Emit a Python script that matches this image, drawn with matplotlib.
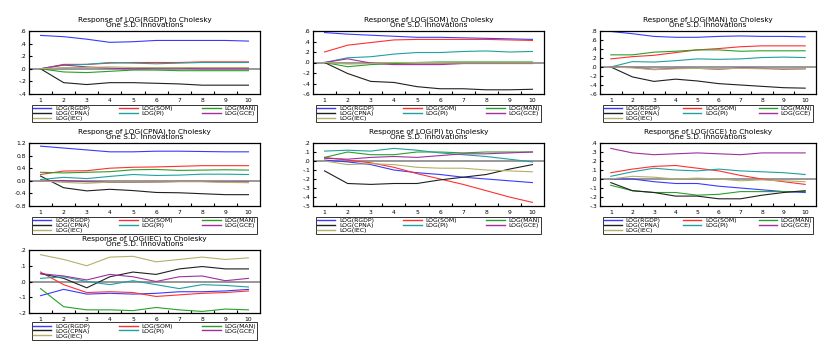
import numpy as np
import matplotlib.pyplot as plt
from matplotlib.ticker import FixedLocator, FixedFormatter

plt.rcParams['font.family'] = ['DejaVu Sans']

periods = np.arange(1, 11)

shocks = ["LOG(RGDP)", "LOG(SOM)", "LOG(MAN)", "LOG(CPNA)", "LOG(PI)", "LOG(GCE)", "LOG(IEC)"]
colors = ["#3a3aff", "#ff3030", "#2aa02a", "#202020", "#20a0a0", "#a030a0", "#b4b06a"]

# responses of each variable, one row per shock (same order as shocks)
resp_rgdp = [
    [0.53, 0.51, 0.47, 0.42, 0.43, 0.45, 0.45, 0.45, 0.45, 0.44],
    [0.0, 0.07, 0.07, 0.09, 0.10, 0.10, 0.10, 0.11, 0.11, 0.11],
    [0.0, -0.05, -0.06, -0.04, -0.02, -0.02, -0.03, -0.03, -0.03, -0.03],
    [0.0, -0.22, -0.25, -0.22, -0.22, -0.23, -0.24, -0.26, -0.26, -0.26],
    [0.0, 0.06, 0.07, 0.10, 0.09, 0.08, 0.09, 0.10, 0.10, 0.10],
    [0.0, 0.06, 0.03, 0.01, 0.0, 0.01, 0.01, 0.0, 0.0, 0.0],
    [0.0, 0.02, 0.02, 0.03, 0.02, 0.02, 0.02, 0.02, 0.02, 0.02],
]
resp_som = [
    [0.57, 0.54, 0.52, 0.50, 0.48, 0.48, 0.47, 0.46, 0.45, 0.44],
    [0.20, 0.33, 0.38, 0.43, 0.44, 0.44, 0.44, 0.44, 0.43, 0.42],
    [0.0, -0.08, -0.04, -0.02, 0.0, 0.01, 0.01, 0.01, 0.01, 0.01],
    [0.0, -0.21, -0.36, -0.38, -0.46, -0.50, -0.50, -0.52, -0.52, -0.51],
    [0.0, 0.09, 0.11, 0.16, 0.19, 0.19, 0.21, 0.22, 0.20, 0.21],
    [0.0, 0.07, -0.01, -0.04, -0.04, -0.04, -0.02, -0.02, -0.02, -0.02],
    [0.0, -0.03, -0.02, 0.0, 0.0, 0.0, -0.01, -0.01, -0.01, -0.01],
]
resp_man = [
    [0.79, 0.74, 0.68, 0.66, 0.66, 0.68, 0.69, 0.68, 0.68, 0.67],
    [0.18, 0.23, 0.26, 0.32, 0.38, 0.41, 0.45, 0.47, 0.47, 0.47],
    [0.27, 0.27, 0.33, 0.35, 0.38, 0.38, 0.35, 0.36, 0.36, 0.36],
    [0.0, -0.22, -0.32, -0.27, -0.31, -0.37, -0.40, -0.43, -0.46, -0.47],
    [0.0, 0.12, 0.11, 0.14, 0.18, 0.17, 0.18, 0.21, 0.22, 0.21],
    [0.0, -0.01, -0.05, -0.03, -0.03, -0.05, -0.02, -0.03, -0.05, -0.04],
    [0.0, -0.02, -0.06, -0.04, -0.03, -0.04, -0.03, -0.04, -0.04, -0.04],
]
resp_cpna = [
    [1.10, 1.04, 0.98, 0.92, 0.92, 0.94, 0.94, 0.93, 0.92, 0.92],
    [0.20, 0.31, 0.32, 0.40, 0.43, 0.44, 0.46, 0.48, 0.48, 0.48],
    [0.27, 0.25, 0.27, 0.29, 0.35, 0.36, 0.33, 0.34, 0.35, 0.34],
    [0.15, -0.22, -0.32, -0.27, -0.31, -0.37, -0.38, -0.41, -0.44, -0.44],
    [0.04, 0.11, 0.07, 0.14, 0.20, 0.17, 0.18, 0.21, 0.21, 0.20],
    [0.0, 0.01, -0.03, -0.05, -0.05, -0.04, -0.02, -0.02, -0.04, -0.04],
    [0.0, -0.05, -0.08, -0.04, -0.04, -0.04, -0.03, -0.03, -0.05, -0.06],
]
resp_pi = [
    [0.01, -0.01, -0.04, -0.10, -0.13, -0.15, -0.18, -0.20, -0.22, -0.24],
    [0.04, 0.01, -0.02, -0.07, -0.14, -0.20, -0.26, -0.33, -0.40, -0.46],
    [0.04, 0.10, 0.07, 0.07, 0.10, 0.10, 0.09, 0.10, 0.10, 0.10],
    [-0.11, -0.25, -0.26, -0.25, -0.25, -0.21, -0.18, -0.15, -0.09, -0.04],
    [0.11, 0.12, 0.11, 0.14, 0.12, 0.09, 0.07, 0.05, 0.02, -0.01],
    [0.03, 0.02, 0.04, 0.05, 0.04, 0.06, 0.08, 0.08, 0.09, 0.10],
    [0.0, -0.04, -0.03, -0.04, -0.07, -0.08, -0.08, -0.10, -0.11, -0.12],
]
resp_gce = [
    [0.0, 0.0, -0.03, -0.05, -0.05, -0.08, -0.10, -0.12, -0.14, -0.15],
    [0.07, 0.11, 0.14, 0.15, 0.12, 0.09, 0.04, 0.0, -0.03, -0.06],
    [-0.07, -0.13, -0.15, -0.15, -0.18, -0.17, -0.14, -0.14, -0.14, -0.14],
    [-0.04, -0.13, -0.15, -0.19, -0.19, -0.22, -0.22, -0.18, -0.15, -0.13],
    [0.03, 0.08, 0.12, 0.10, 0.09, 0.11, 0.09, 0.08, 0.07, 0.05],
    [0.34, 0.29, 0.27, 0.28, 0.29, 0.28, 0.27, 0.29, 0.29, 0.29],
    [0.0, 0.03, 0.02, 0.0, 0.01, 0.0, -0.02, -0.01, -0.02, -0.03],
]
resp_iec = [
    [-0.09, -0.05, -0.08, -0.075, -0.08, -0.075, -0.065, -0.065, -0.06, -0.05],
    [0.06, -0.02, -0.07, -0.065, -0.07, -0.095, -0.085, -0.075, -0.07, -0.06],
    [-0.045, -0.16, -0.18, -0.18, -0.185, -0.165, -0.18, -0.19, -0.175, -0.18],
    [0.05, 0.02, -0.04, 0.03, 0.06, 0.045, 0.08, 0.095, 0.08, 0.08],
    [0.02, 0.03, 0.0, -0.02, 0.005, -0.02, -0.045, -0.02, -0.025, -0.035],
    [0.05, 0.035, 0.01, 0.045, 0.03, 0.0, 0.03, 0.035, 0.005, 0.02],
    [0.17, 0.14, 0.10, 0.155, 0.16, 0.125, 0.14, 0.155, 0.14, 0.15],
]

panels = [
    ("LOG(RGDP)", resp_rgdp, [0.6, 0.4, 0.2, 0.0, -0.2, -0.4], [".6", ".4", ".2", ".0", "-.2", "-.4"]),
    ("LOG(SOM)", resp_som, [0.6, 0.4, 0.2, 0.0, -0.2, -0.4, -0.6], [".6", ".4", ".2", ".0", "-.2", "-.4", "-.6"]),
    ("LOG(MAN)", resp_man, [0.8, 0.6, 0.4, 0.2, 0.0, -0.2, -0.4, -0.6], [".8", ".6", ".4", ".2", ".0", "-.2", "-.4", "-.6"]),
    ("LOG(CPNA)", resp_cpna, [1.2, 0.8, 0.4, 0.0, -0.4, -0.8], ["1.2", "0.8", "0.4", "0.0", "-0.4", "-0.8"]),
    ("LOG(PI)", resp_pi, [0.2, 0.1, 0.0, -0.1, -0.2, -0.3, -0.4, -0.5], [".2", ".1", ".0", "-.1", "-.2", "-.3", "-.4", "-.5"]),
    ("LOG(GCE)", resp_gce, [0.4, 0.3, 0.2, 0.1, 0.0, -0.1, -0.2, -0.3], [".4", ".3", ".2", ".1", ".0", "-.1", "-.2", "-.3"]),
    ("LOG(IEC)", resp_iec, [0.2, 0.1, 0.0, -0.1, -0.2], [".2", ".1", ".0", "-.1", "-.2"]),
]

W, H = 822, 343
fig = plt.figure(figsize=(W / 100, H / 100), dpi=100)

lefts = [29, 313, 600]
widths = [231, 231, 216]
tops = [31, 143, 250]
ah = 63

# legend order so that matplotlib's column filling reads row-wise
leg_order = [0, 3, 6, 1, 4, 2, 5]

for k, (var, resp, yt, ytl) in enumerate(panels):
    r, c = divmod(k, 3)
    ax = fig.add_axes([lefts[c] / W, 1 - (tops[r] + ah) / H, widths[c] / W, ah / H])
    ax.axhline(0, color="#909090", lw=1.3, zorder=1)
    lines = []
    for j in range(7):
        ln, = ax.plot(periods, resp[j], color=colors[j], lw=0.8, label=shocks[j], zorder=2)
        lines.append(ln)
    ax.set_xlim(0.5, 10.5)
    ax.set_ylim(yt[-1], yt[0])
    ax.yaxis.set_major_locator(FixedLocator(yt))
    ax.yaxis.set_major_formatter(FixedFormatter(ytl))
    ax.set_xticks(periods)
    ax.set_xticks(periods[:-1] + 0.5, minor=True)
    ax.tick_params(axis="x", which="major", length=0, labelsize=4.3, pad=3)
    ax.tick_params(axis="x", which="minor", direction="in", length=2, width=0.8)
    ax.tick_params(axis="y", direction="in", length=2, width=0.8, labelsize=4.3, pad=2)
    for s in ax.spines.values():
        s.set_linewidth(0.9)
    ax.set_title("Response of %s to Cholesky\nOne S.D. Innovations" % var,
                 fontsize=5.3, linespacing=0.8, pad=3)
    yoff = -0.15 if r == 2 else -0.17
    leg = ax.legend([lines[i] for i in leg_order], [shocks[i] for i in leg_order],
                    loc="upper left", bbox_to_anchor=(0.013, yoff, 0.974, 0), mode="expand",
                    ncol=3, fontsize=4.4, frameon=True, fancybox=False, edgecolor="black",
                    handlelength=3.0, handletextpad=0.6, labelspacing=-0.05, borderpad=0.15,
                    borderaxespad=0.0, columnspacing=1.0)
    leg.get_frame().set_linewidth(0.7)
    for lh in leg.get_lines():
        lh.set_linewidth(1.0)

fig.savefig("out.png", dpi=100)
